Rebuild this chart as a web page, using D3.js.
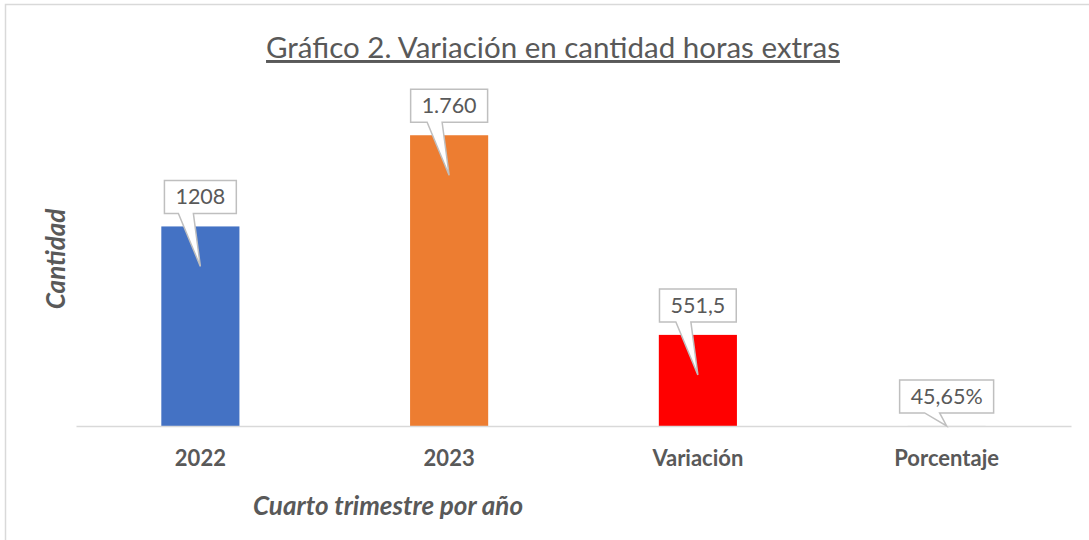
<!DOCTYPE html>
<html>
<head>
<meta charset="utf-8">
<script src="https://cdn.jsdelivr.net/npm/d3@7/dist/d3.min.js"></script>
<style>
  body { margin: 0; background: #fff; }
  svg { display: block; font-family: Lato, "Open Sans", sans-serif; }
</style>
</head>
<body>
<div id="chart"></div>
<script>
// Datos del gráfico
const categories = ["2022", "2023", "Variación", "Porcentaje"];
const values = [1208, 1760, 551.5, 0.4565];
const valueLabels = ["1208", "1.760", "551,5", "45,65%"];
const barColors = ["#4472C4", "#ED7D31", "#FF0000", "#A5A5A5"];

const W = 1089, H = 540;
const margin = { top: 95.6, right: 18, bottom: 114, left: 76 };
const textColor = "#595959";

const svg = d3.select("#chart").append("svg")
  .attr("width", W)
  .attr("height", H);

// Borde del área del gráfico
svg.append("path")
  .attr("d", `M5.5,${H} V4.5 H${W}`)
  .attr("fill", "none")
  .attr("stroke", "#D9D9D9")
  .attr("stroke-width", 1.5);

// Escalas
const x = d3.scaleBand()
  .domain(categories)
  .range([margin.left, W - margin.right])
  .paddingInner(0.686)
  .paddingOuter(0.343);

const y = d3.scaleLinear()
  .domain([0, 2000])
  .range([H - margin.bottom, margin.top]);

const data = categories.map((c, i) => ({
  cat: c, value: values[i], label: valueLabels[i], color: barColors[i]
}));

// Barras
svg.selectAll(".bar")
  .data(data)
  .enter()
  .append("rect")
  .attr("class", "bar")
  .attr("x", d => x(d.cat))
  .attr("width", x.bandwidth())
  .attr("y", d => y(d.value))
  .attr("height", d => y(0) - y(d.value))
  .attr("fill", d => d.color);

// Eje X
const xAxis = svg.append("g")
  .attr("transform", `translate(0,${y(0)})`)
  .call(d3.axisBottom(x).tickSize(0).tickPadding(24))
  .call(g => g.select(".domain").attr("stroke", "#D9D9D9").attr("stroke-width", 1.5));

xAxis.selectAll("text")
  .attr("font-family", "Lato, sans-serif")
  .attr("font-size", "22px")
  .attr("font-weight", "bold")
  .attr("fill", textColor);

// Etiquetas tipo globo
const labelG = svg.selectAll(".callout")
  .data(data)
  .enter()
  .append("g")
  .attr("class", "callout");

labelG.each(function (d) {
  const g = d3.select(this);
  const cx = x(d.cat) + x.bandwidth() / 2;
  const top = y(d.value);
  const t = g.append("text")
    .attr("x", cx)
    .attr("text-anchor", "middle")
    .attr("font-size", "21.5px")
    .attr("fill", textColor)
    .text(d.label);
  const tw = t.node().getComputedTextLength();
  const bw = tw + 22, bh = 33;
  const bBottom = top - 13;
  const bTop = bBottom - bh;
  const left = cx - bw / 2, right = cx + bw / 2;
  const tipY = Math.min(top + 40, y(0));
  const path = `M${left},${bTop} H${right} V${bBottom} H${cx - 7} L${cx},${tipY} L${cx - 22},${bBottom} H${left} Z`;
  g.insert("path", "text")
    .attr("d", path)
    .attr("fill", "#fff")
    .attr("stroke", "#BFBFBF")
    .attr("stroke-width", 1.5);
  t.attr("y", bBottom - 9);
});

// Título
svg.append("text")
  .attr("x", 553)
  .attr("y", 58)
  .attr("text-anchor", "middle")
  .attr("font-size", "29.5px")
  .attr("fill", textColor)
  .attr("text-decoration", "underline")
  .text("Gráfico 2. Variación en cantidad horas extras");

// Títulos de ejes
svg.append("text")
  .attr("x", 388)
  .attr("y", 515)
  .attr("text-anchor", "middle")
  .attr("font-size", "26px")
  .attr("font-weight", "bold")
  .attr("font-style", "italic")
  .attr("fill", textColor)
  .text("Cuarto trimestre por año");

svg.append("text")
  .attr("transform", "translate(65,259) rotate(-90)")
  .attr("text-anchor", "middle")
  .attr("font-size", "26px")
  .attr("font-weight", "bold")
  .attr("font-style", "italic")
  .attr("fill", textColor)
  .text("Cantidad");
</script>
</body>
</html>
